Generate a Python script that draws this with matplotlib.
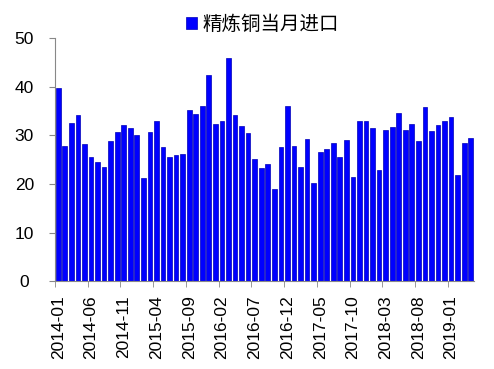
import numpy as np
import pandas as pd
import matplotlib.pyplot as plt

plt.rcParams["font.family"] = ["Liberation Sans", "Noto Sans CJK SC", "DejaVu Sans"]

# monthly refined copper imports, 2014-01 .. 2019-04
months = pd.period_range("2014-01", "2019-04", freq="M").strftime("%Y-%m").tolist()
imports = [
    39.8, 27.9, 32.5, 34.2, 28.3, 25.5, 24.5, 23.5, 28.9, 30.6, 32.1, 31.5,
    30.1, 21.2, 30.7, 32.9, 27.6, 25.5, 26.0, 26.2, 35.3, 34.4, 36.0, 42.4,
    32.4, 32.9, 45.9, 34.2, 31.9, 30.5, 25.1, 23.2, 24.2, 19.0, 27.7, 36.0,
    27.9, 23.4, 29.2, 20.3, 26.5, 27.2, 28.4, 25.5, 29.0, 21.4, 32.9, 32.9,
    31.5, 22.9, 31.0, 31.8, 34.5, 31.1, 32.3, 28.8, 35.8, 30.9, 32.2, 32.9,
    33.7, 21.8, 28.4, 29.5,
]
legend_label = "精炼铜当月进口"
y_ticks = [0, 10, 20, 30, 40, 50]

fig = plt.figure(figsize=(4.94, 3.69), dpi=100)
ax = fig.add_axes([55 / 494, (369 - 281.3) / 369, (474 - 55) / 494, (281.3 - 38) / 369])

x = np.arange(len(imports))
ax.bar(x, imports, width=0.72, color="#0000FF", edgecolor="#0000B8", linewidth=0.5, label=legend_label)

ax.set_xlim(-0.5, len(imports) - 0.5)
ax.set_ylim(0, 50)
ax.set_yticks(y_ticks)

# labels at category centres, tick marks at category boundaries
label_pos = x[::5]
ax.set_xticks(label_pos)
ax.set_xticklabels([months[i] for i in label_pos], rotation=90, fontsize=12.5)
ax.set_xticks(label_pos - 0.5, minor=True)
ax.tick_params(axis="x", which="major", length=0, pad=10)
ax.tick_params(axis="x", which="minor", length=4, color="#888888")
ax.tick_params(axis="y", length=4, color="#888888", labelsize=12.5, pad=18)
for lab in ax.get_yticklabels():
    lab.set_horizontalalignment("center")

for side in ["top", "right"]:
    ax.spines[side].set_visible(False)
for side in ["left", "bottom"]:
    ax.spines[side].set_color("#888888")

ax.legend(loc="lower center", bbox_to_anchor=(0.495, 0.985), frameon=False, fontsize=14,
          handlelength=0.55, handleheight=0.55, handletextpad=0.3, borderaxespad=0)

plt.savefig("out.png", dpi=100)
